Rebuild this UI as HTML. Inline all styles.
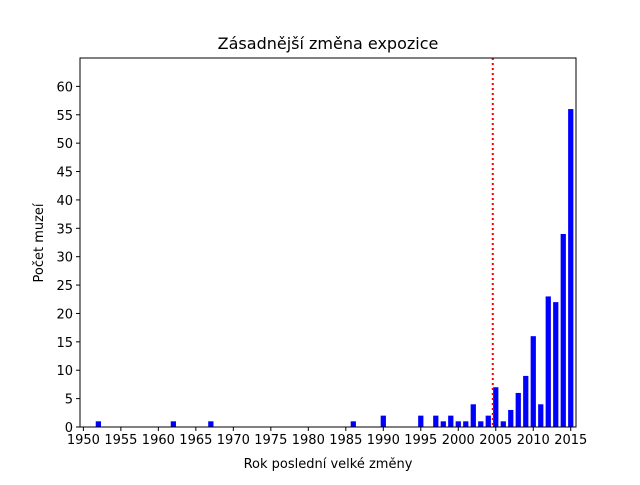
<!DOCTYPE html>
<html><head><meta charset="utf-8"><style>
body{margin:0;background:#fff;}
svg text{font-family:"DejaVu Sans","Liberation Sans",sans-serif;fill:#000;}
</style></head><body>
<svg id="chart" width="640" height="480">
<rect width="640" height="480" fill="#fff"/>
<text x="328" y="49" font-size="16" text-anchor="middle">Zásadnější změna expozice</text>
<g id="bars"></g>
<g id="axes"></g>
<text x="328" y="468" font-size="13" text-anchor="middle">Rok poslední velké změny</text>
<text transform="translate(43,243) rotate(-90)" font-size="13" text-anchor="middle">Počet muzeí</text>
</svg>
<script>
const years=[1952,1962,1967,1986,1990,1995,1997,1998,1999,2000,2001,2002,2003,2004,2005,2006,2007,2008,2009,2010,2011,2012,2013,2014,2015];
const counts=[1,1,1,1,2,2,2,1,2,1,1,4,1,2,7,1,3,6,9,16,4,23,22,34,56];
const xTicks=[1950,1955,1960,1965,1970,1975,1980,1985,1990,1995,2000,2005,2010,2015];
const yTicks=[0,5,10,15,20,25,30,35,40,45,50,55,60];
const markerYear=2004.6;
const L=80,R=576,T=58,B=427,x0=1949.55,x1=2015.7,yMax=65;
const sx=v=>L+(v-x0)/(x1-x0)*(R-L);
const sy=v=>B-v/yMax*(B-T);
const NS="http://www.w3.org/2000/svg";
const bars=document.getElementById('bars'),axes=document.getElementById('axes');
function mk(tag,attrs,parent){const e=document.createElementNS(NS,tag);for(const k in attrs)e.setAttribute(k,attrs[k]);parent.appendChild(e);return e;}
years.forEach((y,i)=>{
 const w=sx(y+0.35)-sx(y-0.35);
 const r=mk('rect',{x:sx(y)-w/2,y:sy(counts[i]),width:w,height:sy(0)-sy(counts[i]),fill:'#0000ff'},bars);
 
 
});
const ml=mk('line',{x1:sx(markerYear),x2:sx(markerYear),y1:T,y2:B,stroke:'#ff0000','stroke-width':2,'stroke-dasharray':'2,3'},bars);


const fr=mk('rect',{x:L,y:T,width:R-L,height:B-T,fill:'none',stroke:'#000','stroke-width':1},axes);


xTicks.forEach(t=>{
 mk('line',{x1:sx(t),x2:sx(t),y1:B,y2:B+4,stroke:'#000'},axes);
 const tx=mk('text',{x:sx(t),y:B+17,'font-size':13,'text-anchor':'middle'},axes);
 tx.textContent=t;
 
 
});
yTicks.forEach(t=>{
 mk('line',{x1:L-4,x2:L,y1:sy(t),y2:sy(t),stroke:'#000'},axes);
 const tx=mk('text',{x:L-7,y:sy(t)+5,'font-size':13,'text-anchor':'end'},axes);
 tx.textContent=t;
 
 
});
</script>
</body></html>
